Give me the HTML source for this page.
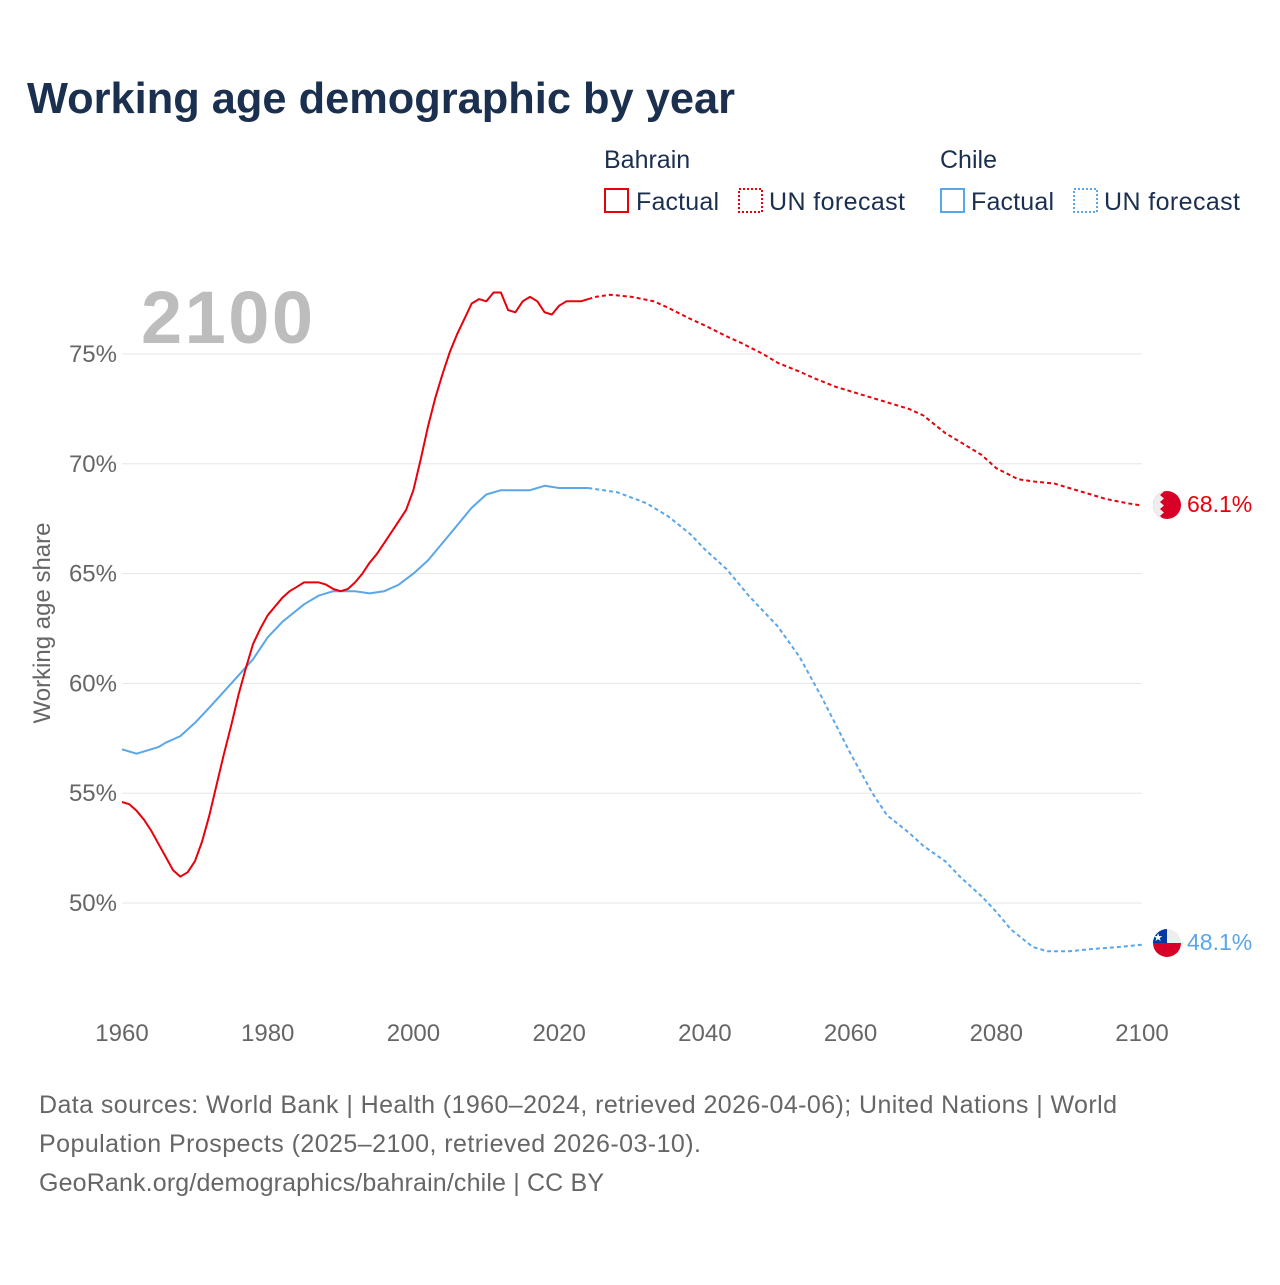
<!DOCTYPE html>
<html><head><meta charset="utf-8"><style>
body{margin:0;background:#fff;width:1280px;height:1280px;overflow:hidden;font-family:"Liberation Sans",sans-serif}
</style></head><body>
<svg width="1280" height="1280" xmlns="http://www.w3.org/2000/svg">
<text x="27" y="113" font-size="44" font-weight="bold" fill="#1b2f4e" textLength="708" lengthAdjust="spacingAndGlyphs">Working age demographic by year</text>
<g font-size="25" fill="#1b2f4e">
<text x="604" y="168">Bahrain</text>
<rect x="605" y="189" width="23" height="23" fill="none" stroke="#e8000b" stroke-width="2"/>
<text x="636" y="210" textLength="83">Factual</text>
<rect x="739" y="189" width="23" height="23" fill="none" stroke="#e8000b" stroke-width="2" stroke-dasharray="2,2"/>
<text x="769" y="210" textLength="136">UN forecast</text>
<text x="940" y="168">Chile</text>
<rect x="941" y="189" width="23" height="23" fill="none" stroke="#5aa6ea" stroke-width="2"/>
<text x="971" y="210" textLength="83">Factual</text>
<rect x="1074" y="189" width="23" height="23" fill="none" stroke="#5aa6ea" stroke-width="2" stroke-dasharray="2,2"/>
<text x="1104" y="210" textLength="136">UN forecast</text>
</g>
<text x="141" y="343" font-size="74" font-weight="bold" fill="#bdbdbd" textLength="172">2100</text>
<g id="grid"></g><g id="xt"></g><g id="yt"></g><g id="lines"></g>
<text transform="translate(50,623) rotate(-90)" text-anchor="middle" font-size="24" fill="#666">Working age share</text>
<g>
<clipPath id="cb"><circle cx="1167" cy="505" r="14"/></clipPath>
<g clip-path="url(#cb)"><rect x="1150" y="488" width="34" height="34" fill="#d80027"/><polygon points="1150,488 1160,488 1164,491.5 1160,495 1164,498.5 1160,502 1164,505.5 1160,509 1164,512.5 1160,516 1164,519.5 1160,522 1150,522" fill="#eee"/></g></g>
<g>
<clipPath id="cc"><circle cx="1167" cy="943" r="14"/></clipPath>
<g clip-path="url(#cc)"><rect x="1150" y="926" width="34" height="17" fill="#eee"/><rect x="1150" y="943" width="34" height="17" fill="#d80027"/><rect x="1150" y="926" width="17" height="17" fill="#0039a6"/><text x="1158" y="941" font-size="11" fill="#fff" text-anchor="middle">★</text></g></g>
<text x="1187" y="512" font-size="23" fill="#e8000b">68.1%</text>
<text x="1187" y="950" font-size="23" fill="#5aa6ea">48.1%</text>
<g font-size="25" fill="#666">
<text x="39" y="1113" textLength="1078">Data sources: World Bank | Health (1960–2024, retrieved 2026-04-06); United Nations | World</text>
<text x="39" y="1152" textLength="662">Population Prospects (2025–2100, retrieved 2026-03-10).</text>
<text x="39" y="1191" textLength="565">GeoRank.org/demographics/bahrain/chile | CC BY</text>
</g>
</svg>
<script>
const xTicks=[1960,1980,2000,2020,2040,2060,2080,2100];
const yTicks=[50,55,60,65,70,75];
const bhFactYears=[1960,1961,1962,1963,1964,1965,1966,1967,1968,1969,1970,1971,1972,1973,1974,1975,1976,1977,1978,1979,1980,1981,1982,1983,1984,1985,1986,1987,1988,1989,1990,1991,1992,1993,1994,1995,1996,1997,1998,1999,2000,2001,2002,2003,2004,2005,2006,2007,2008,2009,2010,2011,2012,2013,2014,2015,2016,2017,2018,2019,2020,2021,2022,2023,2024];
const bhFactVals=[54.6,54.5,54.2,53.8,53.3,52.7,52.1,51.5,51.2,51.4,51.9,52.8,54.0,55.4,56.8,58.1,59.5,60.7,61.8,62.5,63.1,63.5,63.9,64.2,64.4,64.6,64.6,64.6,64.5,64.3,64.2,64.3,64.6,65.0,65.5,65.9,66.4,66.9,67.4,67.9,68.8,70.2,71.7,73.0,74.1,75.1,75.9,76.6,77.3,77.5,77.4,77.8,77.8,77.0,76.9,77.4,77.6,77.4,76.9,76.8,77.2,77.4,77.4,77.4,77.5];
const bhFcYears=[2024,2025,2027,2030,2033,2035,2038,2040,2043,2045,2048,2050,2053,2055,2058,2060,2063,2065,2068,2070,2073,2075,2078,2080,2083,2085,2088,2090,2093,2095,2098,2100];
const bhFcVals=[77.5,77.6,77.7,77.6,77.4,77.1,76.6,76.3,75.8,75.5,75.0,74.6,74.2,73.9,73.5,73.3,73.0,72.8,72.5,72.2,71.4,71.0,70.4,69.8,69.3,69.2,69.1,68.9,68.6,68.4,68.2,68.1];
const clFactYears=[1960,1962,1965,1966,1968,1970,1972,1975,1978,1980,1982,1985,1987,1989,1992,1994,1996,1998,2000,2002,2005,2008,2010,2012,2016,2018,2020,2024];
const clFactVals=[57.0,56.8,57.1,57.3,57.6,58.2,58.9,60.0,61.1,62.1,62.8,63.6,64.0,64.2,64.2,64.1,64.2,64.5,65.0,65.6,66.8,68.0,68.6,68.8,68.8,69.0,68.9,68.9];
const clFcYears=[2024,2028,2032,2035,2038,2040,2043,2046,2050,2053,2056,2060,2063,2065,2068,2070,2073,2075,2078,2080,2082,2085,2087,2090,2093,2097,2100];
const clFcVals=[68.9,68.7,68.2,67.6,66.8,66.1,65.2,64.0,62.6,61.2,59.4,56.8,55.0,54.0,53.2,52.6,51.9,51.2,50.3,49.6,48.8,48.0,47.8,47.8,47.9,48.0,48.1];
const X=y=>122+(y-1960)*(1020/140);
const Y=v=>903-(v-50)*21.96;
const NS='http://www.w3.org/2000/svg';
function mk(t,a,p){const e=document.createElementNS(NS,t);for(const k in a)e.setAttribute(k,a[k]);p.appendChild(e);return e;}
const g=document.getElementById('grid'),xt=document.getElementById('xt'),yt=document.getElementById('yt'),L=document.getElementById('lines');
yTicks.forEach(v=>{
 const l=mk('line',{x1:122,x2:1142,y1:Y(v),y2:Y(v),stroke:'#e6e6e6','stroke-width':1},g);
 
 
 const t=mk('text',{x:117,y:Y(v)+8,'text-anchor':'end','font-size':24,fill:'#666'},yt);
 t.textContent=v+'%';
 
 
});
xTicks.forEach(v=>{
 const t=mk('text',{x:X(v),y:1041,'text-anchor':'middle','font-size':24,fill:'#666'},xt);
 t.textContent=v;
 
 
});
function line(ys,vs,col,dash,name){
 const d=ys.map((y,i)=>(i?'L':'M')+X(y).toFixed(1)+','+Y(vs[i]).toFixed(1)).join('');
 const p=mk('path',{d:d,fill:'none',stroke:col,'stroke-width':2,'stroke-linejoin':'round'},L);
 if(dash)p.setAttribute('stroke-dasharray','4,3');
 
 
}
line(clFactYears,clFactVals,'#5aa6ea',false,'chile-factual-line');
line(clFcYears,clFcVals,'#5aa6ea',true,'chile-forecast-line');
line(bhFactYears,bhFactVals,'#e8000b',false,'bahrain-factual-line');
line(bhFcYears,bhFcVals,'#e8000b',true,'bahrain-forecast-line');
</script>
</body></html>
